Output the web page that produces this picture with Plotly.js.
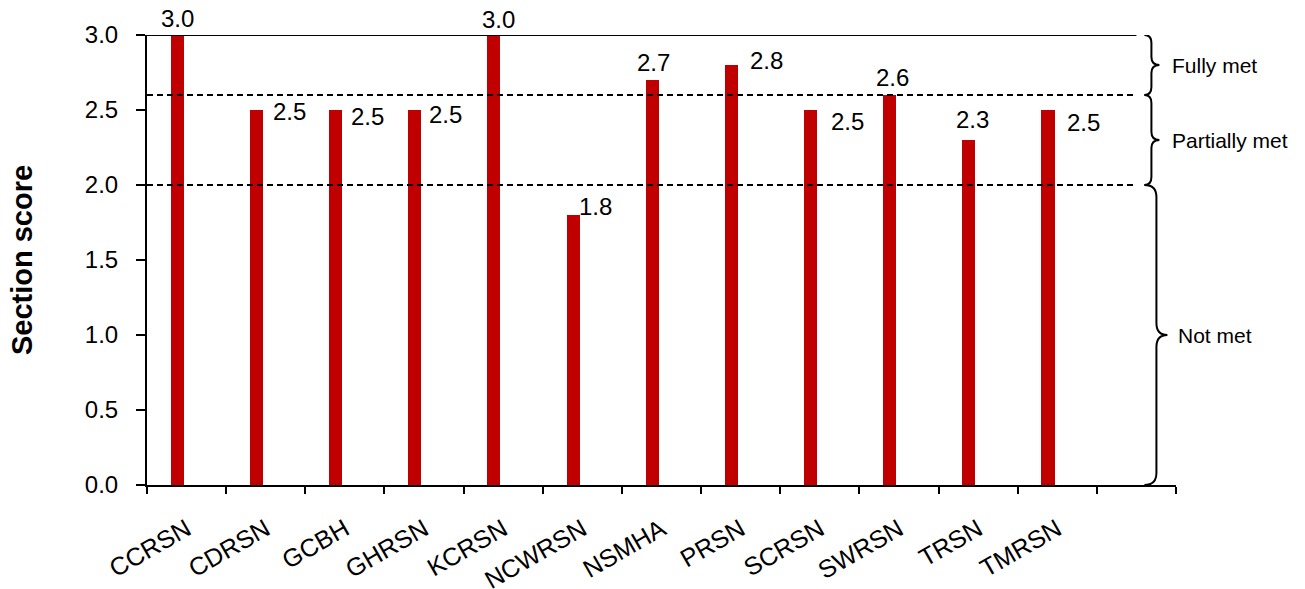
<!DOCTYPE html>
<html>
<head>
<meta charset="utf-8">
<script src="https://cdn.plot.ly/plotly-3.0.1.min.js"></script>
<style>html,body{margin:0;padding:0;background:#fff;}#chart{width:1305px;height:589px;}</style>
</head>
<body>
<div id="chart"></div>
<script>
// ---- data ----
const categories = ["CCRSN","CDRSN","GCBH","GHRSN","KCRSN","NCWRSN","NSMHA","PRSN","SCRSN","SWRSN","TRSN","TMRSN"];
const scores = [3.0, 2.5, 2.5, 2.5, 3.0, 1.8, 2.7, 2.8, 2.5, 2.6, 2.3, 2.5];
const yTickValues = [0, 0.5, 1.0, 1.5, 2.0, 2.5, 3.0];
const bandNames = ["Fully met", "Partially met", "Not met"];
const bandLower = [2.6, 2.0, 0.0];
const bandUpper = [3.0, 2.6, 2.0];

// ---- style (label placement relative to bar centre / top, in px) ----
const labelPlacement = [
  ["center", 0, 16.5], ["left", 14.5, -1], ["left", 13.5, -6], ["left", 12.5, -4],
  ["center", 5, 15.5], ["left", 4, 8.5], ["center", 1, 17.5], ["left", 16.5, 4.5],
  ["left", 18.5, -11.5], ["center", 3, 17.5], ["center", 4, 21], ["left", 17.5, -12]
];
const FONT = "Arial, 'Liberation Sans', sans-serif";
const BAR_OFFSET = -0.2, BAR_WIDTH = 0.165;
const SLOT_PX = 1029 / 13;
const barCentrePx = (BAR_OFFSET + BAR_WIDTH / 2) * SLOT_PX;
const idx = categories.map((c, i) => i);
const nSlots = categories.length + 1;
const xRange = [-0.5, nSlots - 0.5];
const lineEnd = nSlots - 1;

const bar = {
  type: "bar", x: idx, y: scores,
  offset: BAR_OFFSET, width: BAR_WIDTH,
  marker: {color: "#C00000", line: {width: 0}},
  hoverinfo: "skip", showlegend: false
};
// invisible carrier so the category-label axis is drawn
const labelCarrier = {
  type: "scatter", mode: "markers", x: idx, y: scores, xaxis: "x2", yaxis: "y",
  marker: {opacity: 0, size: 1}, hoverinfo: "skip", showlegend: false
};

const annotations = scores.map((v, i) => {
  const p = labelPlacement[i];
  return {
    x: idx[i], y: v, xref: "x", yref: "y",
    text: v.toFixed(1), showarrow: false,
    xanchor: p[0], yanchor: "middle",
    xshift: barCentrePx + p[1], yshift: p[2],
    font: {family: FONT, size: 24, color: "#000"}
  };
});
bandNames.forEach((n, k) => {
  annotations.push({
    x: lineEnd, y: (bandLower[k] + bandUpper[k]) / 2, xref: "x", yref: "y",
    text: n, showarrow: false, xanchor: "left", yanchor: "middle",
    xshift: k === 2 ? 40 : 34,
    font: {family: FONT, size: 21, color: "#000"}
  });
});

function brace(lo, hi, x0, xv, xp, rpx) {
  const r = rpx / 150, mid = (lo + hi) / 2;
  return `M ${x0},${hi} Q ${xv},${hi} ${xv},${hi - r} L ${xv},${mid + r} Q ${xv},${mid} ${xp},${mid} ` +
         `Q ${xv},${mid} ${xv},${mid - r} L ${xv},${lo + r} Q ${xv},${lo} ${x0},${lo}`;
}

const shapes = [];
bandUpper.forEach((u, k) => {
  shapes.push({
    type: "line", xref: "x", yref: "y", x0: xRange[0], x1: lineEnd, y0: u, y1: u,
    line: {color: "#000", width: 2, dash: k === 0 ? "solid" : "6px,4px"}, layer: "above"
  });
});
bandNames.forEach((n, k) => {
  const big = k === 2;
  shapes.push({
    type: "path", xref: "x", yref: "y", xsizemode: "pixel", xanchor: lineEnd,
    path: brace(bandLower[k], bandUpper[k], 8, big ? 20 : 15, big ? 31 : 23, big ? 12 : 8),
    line: {color: "#000", width: 2}, fillcolor: "rgba(0,0,0,0)"
  });
});

const layout = {
  width: 1305, height: 589,
  margin: {l: 147, r: 129, t: 35, b: 104, pad: 0},
  paper_bgcolor: "#fff", plot_bgcolor: "#fff",
  font: {family: FONT, color: "#000"},
  showlegend: false, bargap: 0,
  xaxis: {
    range: xRange, tickmode: "linear", tick0: -0.5, dtick: 1,
    ticks: "outside", ticklen: 7, tickwidth: 2, tickcolor: "#000",
    showticklabels: false, showline: true, linewidth: 2, linecolor: "#000",
    showgrid: false, zeroline: false, fixedrange: true
  },
  xaxis2: {
    overlaying: "x", anchor: "y", side: "bottom", range: xRange,
    tickmode: "array", tickvals: idx, ticktext: categories,
    ticks: "", showline: false, showgrid: false, zeroline: false,
    tickangle: -30, ticklabelstandoff: 24,
    tickfont: {family: FONT, size: 25, color: "#000"}, fixedrange: true
  },
  yaxis: {
    range: [0, 3.0], tickmode: "array", tickvals: yTickValues,
    ticktext: yTickValues.map(v => v.toFixed(1)),
    ticks: "outside", ticklen: 9, tickwidth: 2, tickcolor: "#000",
    showline: true, linewidth: 2, linecolor: "#000",
    showgrid: false, zeroline: false, fixedrange: true,
    ticklabelstandoff: 13,
    tickfont: {family: FONT, size: 24, color: "#000"},
    title: {text: "<b>Section score</b>", font: {family: FONT, size: 29, color: "#000"}, standoff: 44}
  },
  annotations: annotations,
  shapes: shapes
};

Plotly.newPlot("chart", [bar, labelCarrier], layout, {displayModeBar: false, staticPlot: true});
</script>
</body>
</html>
